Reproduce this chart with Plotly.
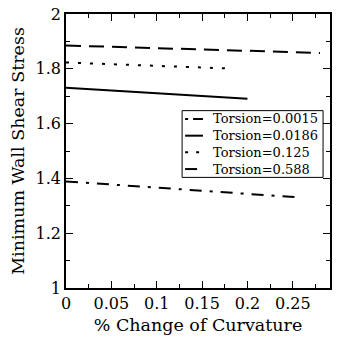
import plotly.graph_objects as go

# Percent change of curvature (x) and minimum wall shear stress (y) per torsion value
labels = ["Torsion=0.0015", "Torsion=0.0186", "Torsion=0.125", "Torsion=0.588"]

x_0015 = [0.0, 0.05, 0.1, 0.15, 0.2, 0.255]
y_0015 = [1.389, 1.378, 1.366, 1.354, 1.343, 1.331]

x_0186 = [0.0, 0.05, 0.1, 0.15, 0.2, 0.25, 0.28]
y_0186 = [1.885, 1.880, 1.875, 1.870, 1.866, 1.861, 1.858]

x_0125 = [0.0, 0.05, 0.1, 0.15, 0.18]
y_0125 = [1.823, 1.817, 1.811, 1.805, 1.801]

x_0588 = [0.0, 0.05, 0.1, 0.15, 0.2]
y_0588 = [1.731, 1.721, 1.711, 1.701, 1.691]

dashes = ["12px,8px,3px,8px", "15px,8px", "3px,9px", "solid"]
sample_dashes = ["3px,5px,10px", "20px", "3px,8px", "12px"]
series = [(x_0015, y_0015), (x_0186, y_0186), (x_0125, y_0125), (x_0588, y_0588)]

W, H = 337, 339
ML, MR, MT, MB = 66, 5, 13, 51
PW, PH = W - ML - MR, H - MT - MB


def px_x(p):
    return (p - ML) / PW


def px_y(p):
    return 1 - (p - MT) / PH


fig = go.Figure()
for name, (xs, ys), dash in zip(labels, series, dashes):
    fig.add_trace(go.Scatter(
        x=xs, y=ys, mode="lines", name=name, showlegend=False,
        line=dict(color="black", width=2, dash=dash),
    ))

font = "DejaVu Serif"
axis_common = dict(
    showgrid=False, zeroline=False, showline=True, linecolor="black",
    linewidth=1.5, mirror="ticks", ticks="inside", ticklen=7,
    tickcolor="black", tickwidth=1,
    tickfont=dict(family=font, size=16, color="black"),
    minor=dict(ticks="inside", ticklen=4, tickcolor="black", tickwidth=1),
)

fig.update_xaxes(
    range=[0, 0.291], tickvals=[0, 0.05, 0.1, 0.15, 0.2, 0.25],
    ticktext=["0", "0.05", "0.1", "0.15", "0.2", "0.25"],
    minor_dtick=0.025,
    title=dict(text="% Change of Curvature", font=dict(family=font, size=17.5, color="black"), standoff=7),
    **axis_common,
)
fig.update_yaxes(
    range=[1, 2], tickvals=[1, 1.2, 1.4, 1.6, 1.8, 2],
    ticktext=["1", "1.2", "1.4", "1.6", "1.8", "2"],
    minor_dtick=0.1,
    title=dict(text="Minimum Wall Shear Stress", font=dict(family=font, size=17.5, color="black"), standoff=6),
    **axis_common,
)

# Compact legend box: frame, line samples and labels
box_l, box_r, box_t, box_b = 183, 325, 110, 177
shapes = [dict(
    type="rect", xref="paper", yref="paper",
    x0=px_x(box_l), x1=px_x(box_r), y0=px_y(box_b), y1=px_y(box_t),
    line=dict(color="black", width=1), fillcolor="white", layer="above",
)]
annotations = []
row_h = (box_b - box_t) / len(labels)
for i, (name, dash) in enumerate(zip(labels, sample_dashes)):
    cy = box_t + row_h * (i + 0.5)
    shapes.append(dict(
        type="line", xref="paper", yref="paper",
        x0=px_x(186), x1=px_x(204), y0=px_y(cy), y1=px_y(cy),
        line=dict(color="black", width=2, dash=dash), layer="above",
    ))
    annotations.append(dict(
        text=name, xref="paper", yref="paper", x=px_x(212), y=px_y(cy),
        xanchor="left", yanchor="middle", showarrow=False,
        font=dict(family=font, size=13, color="black"),
    ))

fig.update_layout(
    width=W, height=H,
    margin=dict(l=ML, r=MR, t=MT, b=MB),
    paper_bgcolor="white", plot_bgcolor="white",
    font=dict(family=font, color="black"),
    showlegend=False,
    shapes=shapes, annotations=annotations,
)

fig.write_html("out.html")
